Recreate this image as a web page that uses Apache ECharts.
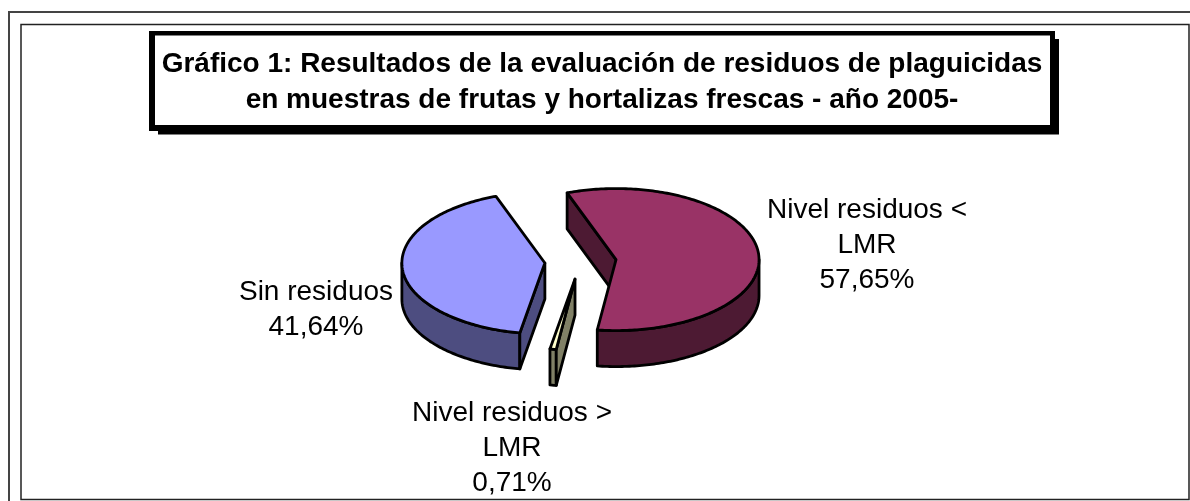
<!DOCTYPE html>
<html>
<head>
<meta charset="utf-8">
<title>Gráfico 1</title>
<style>
  html, body { margin: 0; padding: 0; background: #fff; }
  #chart { width: 1190px; height: 501px; }
</style>
<script src="https://cdn.jsdelivr.net/npm/echarts@6/dist/echarts.min.js"></script>
</head>
<body>
<div id="chart"></div>
<script>
// datos del grafico
const categories = ['Nivel residuos <\nLMR', 'Nivel residuos >\nLMR', 'Sin residuos'];
const values = [57.65, 0.71, 41.64];
const titleText = 'Gráfico 1: Resultados de la evaluación de residuos de plaguicidas\nen muestras de frutas y hortalizas frescas - año 2005-';

// colores: cara superior / lateral
const topColors = ['#993366', '#ffffcc', '#9999ff'];
const sideColors = ['#4d1a33', '#808066', '#4d4d80'];

// geometria de la torta 3D
const center = [580.5, 261.5];
const rx = 143;
const ry = 71;
const depth = 36;
const explode = 0.25;
const startAngle = -20;
const labelPos = [[867, 245], [512, 448], [316, 310]];
const labelFont = '28px "Liberation Sans", Arial, sans-serif';

const total = values.reduce((a, b) => a + b, 0);
const toPoint = (c, deg, dy) => {
  const r = deg * Math.PI / 180;
  return [c[0] + rx * Math.sin(r), c[1] - ry * Math.cos(r) + (dy || 0)];
};
const arc = (c, from, to, dy) => {
  const pts = [];
  const n = Math.max(2, Math.ceil(Math.abs(to - from)));
  for (let i = 0; i <= n; i++) pts.push(toPoint(c, from + (to - from) * i / n, dy));
  return pts;
};
const faceStyle = (fill) => ({ fill: fill, stroke: '#000', lineWidth: 2.8, lineJoin: 'round' });

function renderSlice(params, api) {
  const idx = params.dataIndex;
  let before = 0;
  for (let i = 0; i < idx; i++) before += values[i];
  const a0 = startAngle + before / total * 360;
  const a1 = a0 + api.value(0) / total * 360;
  const mid = (a0 + a1) / 2;
  const c = toPoint(center, mid);
  // el desplazamiento de la porcion es una fraccion del radio
  c[0] = center[0] + (c[0] - center[0]) * explode;
  c[1] = center[1] + (c[1] - center[1]) * explode;

  const children = [];
  const side = sideColors[idx];

  // borde exterior visible (mitad frontal de la elipse)
  const r0 = Math.max(a0, 90);
  const r1 = Math.min(a1, 270);
  if (r1 > r0) {
    children.push({
      type: 'polygon',
      shape: { points: arc(c, r0, r1, 0).concat(arc(c, r1, r0, depth)) },
      style: faceStyle(side)
    });
  }
  // caras de corte
  const norm = (d) => ((d % 360) + 360) % 360;
  [[a0, norm(a0) > 180], [a1, norm(a1) < 180]].forEach(([deg, visible]) => {
    if (!visible) return;
    const p = toPoint(c, deg);
    children.push({
      type: 'polygon',
      shape: { points: [c, p, [p[0], p[1] + depth], [c[0], c[1] + depth]] },
      style: faceStyle(side)
    });
  });
  // cara superior
  children.push({
    type: 'polygon',
    shape: { points: [c].concat(arc(c, a0, a1, 0)) },
    style: faceStyle(topColors[idx])
  });
  // etiqueta
  children.push({
    type: 'text',
    style: {
      x: labelPos[idx][0],
      y: labelPos[idx][1],
      text: categories[idx] + '\n' + api.value(0).toFixed(2).replace('.', ',') + '%',
      fill: '#000',
      font: labelFont,
      lineHeight: 35,
      align: 'center',
      verticalAlign: 'middle'
    }
  });
  return { type: 'group', children: children };
}

const chart = echarts.init(document.getElementById('chart'));
chart.setOption({
  animation: false,
  backgroundColor: '#fff',
  title: {
    text: titleText,
    left: 602,
    top: 46,
    textAlign: 'center',
    padding: 0,
    z: 10,
    textStyle: {
      fontFamily: '"Liberation Sans", Arial, sans-serif',
      fontSize: 28,
      fontWeight: 'bold',
      color: '#000',
      lineHeight: 36
    }
  },
  graphic: [
    // marcos
    { type: 'polyline', silent: true, shape: { points: [[9, 501], [9, 12], [1190, 12]] }, style: { stroke: '#444', lineWidth: 2, fill: null } },
    { type: 'rect', silent: true, shape: { x: 21, y: 24.5, width: 1168, height: 475 }, style: { fill: '#fff', stroke: '#222', lineWidth: 1.5 } },
    // recuadro del titulo con sombra
    { type: 'rect', silent: true, shape: { x: 158, y: 39, width: 901, height: 95.5 }, style: { fill: '#000' } },
    { type: 'rect', silent: true, shape: { x: 149, y: 31, width: 906, height: 100 }, style: { fill: '#000' } },
    { type: 'rect', silent: true, shape: { x: 155, y: 35.5, width: 895, height: 89.5 }, style: { fill: '#fff' } }
  ],
  series: [{
    type: 'custom',
    coordinateSystem: 'none',
    renderItem: renderSlice,
    z: 5,
    data: values.map((v, i) => ({ name: categories[i], value: [v] }))
  }]
});
</script>
</body>
</html>
